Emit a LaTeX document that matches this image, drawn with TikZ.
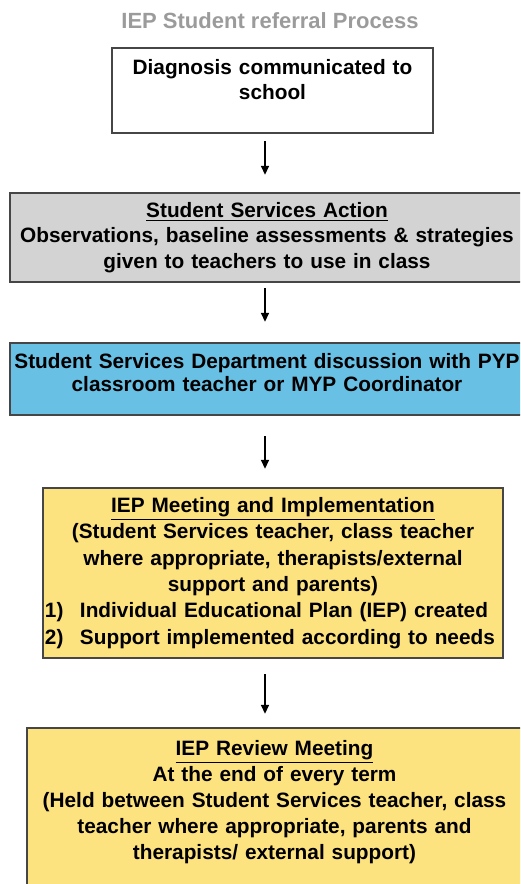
\documentclass[tikz,border=0pt]{standalone}
\usepackage{fontspec}
\setmainfont{Liberation Sans}
\usetikzlibrary{arrows.meta}

\definecolor{boxgray}{RGB}{211,211,211}
\definecolor{boxblue}{RGB}{104,192,228}
\definecolor{boxyellow}{RGB}{253,226,128}
\definecolor{titlegray}{RGB}{155,155,155}
\definecolor{edgegray}{RGB}{70,70,70}

\begin{document}
\begin{tikzpicture}[x=0.5pt,y=-0.5pt,
  stepbox/.style={draw=edgegray,line width=1.2pt,align=center,inner xsep=1pt},
  arr/.style={line width=0.8pt,-{Triangle[length=4.5pt,width=4pt]}}]

\useasboundingbox (0,0) rectangle (520,884);
\clip (0,0) rectangle (520,884);

% title
\node[text=titlegray,font=\bfseries\fontsize{11}{13}\selectfont] (title) at (270,21)
{IEP Student referral Process};

% diagnosis
\node[stepbox,fill=white,minimum width=160.5pt,minimum height=42.5pt,text width=158pt,
  font=\bfseries\fontsize{10.4}{12.5}\selectfont] (diag) at (272.5,90.5)
{Diagnosis communicated to\\ school\rule[-11.5pt]{0pt}{11.5pt}};

% student services action
\node[stepbox,fill=boxgray,minimum width=257pt,minimum height=44.5pt,text width=255pt,
  font=\bfseries\fontsize{10.4}{12.8}\selectfont] (action) at (267,237.5)
{\underline{Student Services Action}\\
 Observations, baseline assessments \& strategies\\
 given to teachers to use in class};

% department discussion
\node[stepbox,fill=boxblue,minimum width=257pt,minimum height=36pt,text width=255pt,
  font=\bfseries\fontsize{10.4}{11.5}\selectfont] (discuss) at (267,379)
{Student Services Department discussion with PYP\\
 classroom teacher or MYP Coordinator\rule[-7pt]{0pt}{7pt}};

% meeting
\node[stepbox,fill=boxyellow,minimum width=230pt,minimum height=85pt,text width=228pt,
  font=\bfseries\fontsize{10.4}{13.2}\selectfont] (meet) at (273,573)
{\underline{IEP Meeting and Implementation}\\
 (Student Services teacher, class teacher\\
 where appropriate, therapists/external\\
 support and parents)\\
 \makebox[228pt][l]{\makebox[17.5pt][l]{1)}Individual Educational Plan (IEP) created}\\
 \makebox[228pt][l]{\makebox[17.5pt][l]{2)}Support implemented according to needs}};

% review
\node[stepbox,fill=boxyellow,minimum width=247.5pt,minimum height=86pt,text width=245pt,
  font=\bfseries\fontsize{10.4}{13}\selectfont] (review) at (274.5,814)
{\underline{IEP Review Meeting}\\
 At the end of every term\\
 (Held between Student Services teacher, class\\
 teacher where appropriate, parents and\\
 therapists/ external support)\rule[-14.5pt]{0pt}{14.5pt}};

% arrows
\coordinate (ax) at (265,0);
\draw[arr,shorten <=3.5pt,shorten >=8.5pt] (diag.south -| ax) -- (action.north -| ax);
\draw[arr,shorten <=2.5pt,shorten >=10pt] (action.south -| ax) -- (discuss.north -| ax);
\draw[arr,shorten <=10pt,shorten >=9pt] (discuss.south -| ax) -- (meet.north -| ax);
\draw[arr,shorten <=7.5pt,shorten >=6.5pt] (meet.south -| ax) -- (review.north -| ax);

\end{tikzpicture}
\end{document}
